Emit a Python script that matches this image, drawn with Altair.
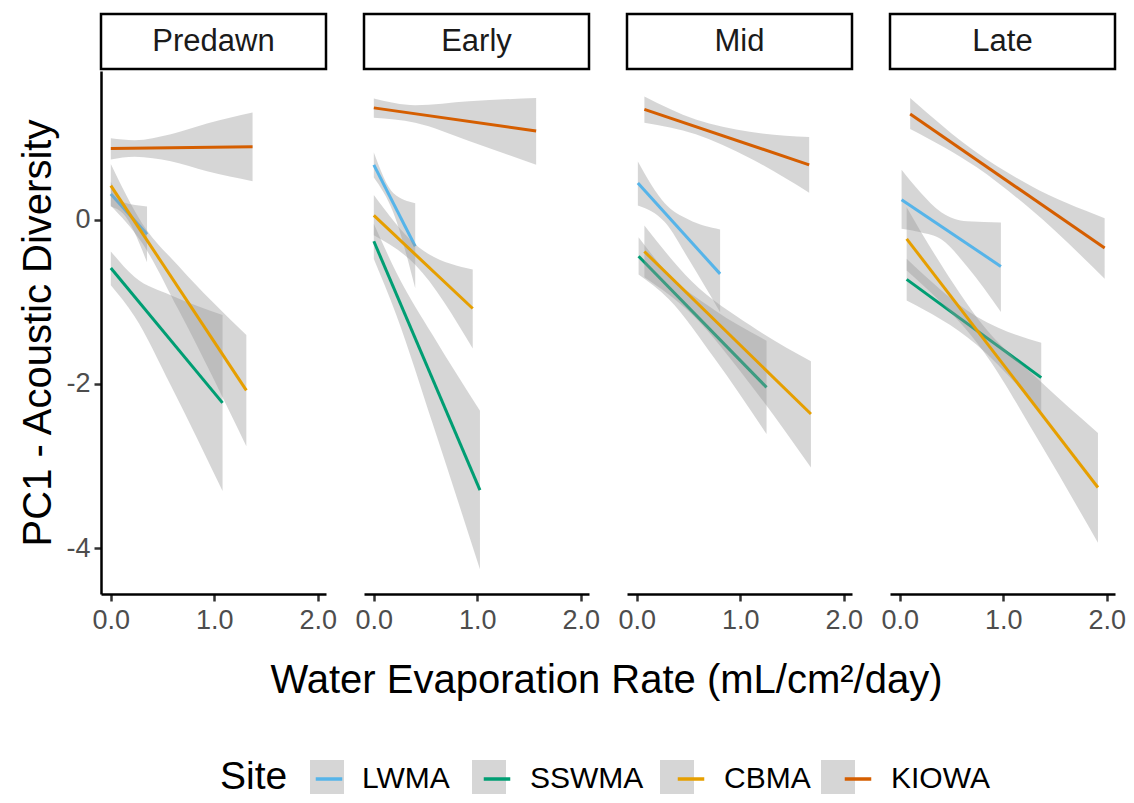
import altair as alt
import pandas as pd

FONT = "Liberation Sans"
TIMES = ["Predawn", "Early", "Mid", "Late"]
SITES = ["LWMA", "SSWMA", "CBMA", "KIOWA"]
SITE_COLORS = ["#56B4E9", "#009E73", "#E69F00", "#D55E00"]
BAND_GRAY = "#999999"

X_TICKS = [0.0, 1.0, 2.0]
Y_TICKS = [0, -2, -4]

X_TITLE = "Water Evaporation Rate (mL/cm\u00b2/day)"
Y_TITLE = "PC1 - Acoustic Diversity"

# Fitted regression lines: site -> ([x_start, x_end], [y_start, y_end])
PREDAWN_LINES = {
    "LWMA": ([0.0, 0.35], [0.312, -0.178]),
    "SSWMA": ([0.0, 1.08], [-0.589, -2.232]),
    "CBMA": ([0.0, 1.31], [0.414, -2.08]),
    "KIOWA": ([0.0, 1.37], [0.867, 0.888]),
}
EARLY_LINES = {
    "LWMA": ([0.0, 0.40], [0.667, -0.324]),
    "SSWMA": ([0.0, 1.026], [-0.264, -3.294]),
    "CBMA": ([0.0, 0.956], [0.051, -1.083]),
    "KIOWA": ([0.0, 1.569], [1.361, 1.079]),
}
MID_LINES = {
    "LWMA": ([0.01, 0.805], [0.445, -0.661]),
    "SSWMA": ([0.017, 1.254], [-0.446, -2.043]),
    "CBMA": ([0.073, 1.683], [-0.389, -2.368]),
    "KIOWA": ([0.073, 1.666], [1.343, 0.667]),
}
LATE_LINES = {
    "LWMA": ([0.017, 0.977], [0.241, -0.570]),
    "SSWMA": ([0.066, 1.367], [-0.728, -1.925]),
    "CBMA": ([0.066, 1.915], [-0.234, -3.263]),
    "KIOWA": ([0.10, 1.98], [1.287, -0.347]),
}

# Confidence ribbons: site -> (x, lower, upper)
PREDAWN_BANDS = {
    "LWMA": ([0.0, 0.12, 0.35], [0.16, 0.07, -0.52], [0.46, 0.21, 0.16]),
    "SSWMA": ([0.0, 0.23, 0.58, 1.08], [-0.80, -1.18, -2.02, -3.306], [-0.387, -0.70, -0.92, -1.163]),
    "CBMA": ([0.0, 0.3, 0.65, 1.31], [0.17, -0.28, -1.09, -2.76], [0.677, -0.04, -0.56, -1.406]),
    "KIOWA": ([0.0, 0.23, 0.58, 0.93, 1.37], [0.733, 0.766, 0.71, 0.588, 0.467],
              [0.992, 0.968, 1.041, 1.17, 1.304]),
}
EARLY_BANDS = {
    "LWMA": ([0.0, 0.19, 0.40], [0.514, 0.08, -0.837], [0.817, 0.32, 0.20]),
    "SSWMA": ([0.0, 0.22, 0.57, 1.026], [-0.48, -1.17, -2.49, -4.26], [-0.05, -0.65, -1.41, -2.328]),
    "CBMA": ([0.0, 0.40, 0.956], [-0.191, -0.55, -1.570], [0.30, -0.30, -0.607]),
    "KIOWA": ([0.0, 0.40, 0.92, 1.569], [1.240, 1.180, 0.958, 0.667], [1.474, 1.393, 1.442, 1.482]),
}
MID_BANDS = {
    "LWMA": ([0.01, 0.27, 0.5, 0.805], [0.172, -0.03, -0.48, -1.128], [0.709, 0.20, 0.0, -0.12]),
    "SSWMA": ([0.017, 0.31, 0.75, 1.254], [-0.669, -0.97, -1.69, -2.612], [-0.214, -0.67, -1.10, -1.474]),
    "CBMA": ([0.073, 0.53, 1.1, 1.683], [-0.702, -1.15, -2.01, -3.019], [-0.072, -0.75, -1.29, -1.726]),
    "KIOWA": ([0.073, 0.57, 1.09, 1.666], [1.18, 1.04, 0.75, 0.327], [1.50, 1.22, 1.07, 1.006]),
}
LATE_BANDS = {
    "LWMA": ([0.017, 0.2, 0.4, 0.65, 0.977], [-0.112, -0.155, -0.24, -0.57, -1.126],
             [0.606, 0.33, 0.09, -0.02, -0.035]),
    "SSWMA": ([0.066, 0.74, 1.367], [-0.984, -1.52, -2.35], [-0.477, -1.18, -1.50]),
    "CBMA": ([0.066, 0.35, 0.8, 1.35, 1.915], [-0.619, -0.95, -1.59, -2.71, -3.936],
             [0.152, -0.45, -1.28, -1.96, -2.598]),
    "KIOWA": ([0.10, 0.74, 1.26, 1.98], [1.105, 0.64, 0.131, -0.72], [1.482, 0.82, 0.415, 0.018]),
}

ALL_LINES = [PREDAWN_LINES, EARLY_LINES, MID_LINES, LATE_LINES]
ALL_BANDS = [PREDAWN_BANDS, EARLY_BANDS, MID_BANDS, LATE_BANDS]

line_rows, band_rows = [], []
for t, lines, bands in zip(TIMES, ALL_LINES, ALL_BANDS):
    for s in SITES:
        xs, ys = lines[s]
        for i, (x, y) in enumerate(zip(xs, ys)):
            line_rows.append({"time": t, "site": s, "x": x, "y": y, "o": i})
        bx, lo, hi = bands[s]
        for x, l, h in zip(bx, lo, hi):
            band_rows.append({"time": t, "site": s, "site_bg": s, "x": x, "lo": l, "hi": h})
lines_df = pd.DataFrame(line_rows)
bands_df = pd.DataFrame(band_rows)

PANEL_W = 225
PANEL_H = 523
STRIP_H = 55
SPACING = 18          # plus the tick-label overhangs gives ~37px between panels
TITLE_W = 4 * PANEL_W + 3 * 37
TITLE_H = 96
LEG_X = 119
LEG_Y = 746

x_scale = alt.Scale(domain=[-0.095, 2.08], nice=False, zero=False)
y_scale = alt.Scale(domain=[-4.56, 1.81], nice=False, zero=False)

fill_legend = alt.Legend(
    orient="none", legendX=LEG_X, legendY=LEG_Y, direction="horizontal", columns=4,
    title="Site", titleOrient="left", symbolType="square", symbolSize=1156,
    symbolOpacity=0.4, symbolStrokeWidth=0, labelOpacity=0, titleOpacity=0, zindex=0,
)
stroke_legend = alt.Legend(
    orient="none", legendX=LEG_X, legendY=LEG_Y, direction="horizontal", columns=4,
    title="Site", titleOrient="left", symbolType="M-0.78,0H0.78", symbolSize=1156,
    symbolStrokeWidth=3.5, zindex=1,
)


def panel(t, first):
    bdf = bands_df[bands_df.time == t]
    ldf = lines_df[lines_df.time == t]
    x_axis = alt.Axis(values=X_TICKS, format=".1f", title=None, grid=False, labelPadding=6)
    if first:
        y_axis = alt.Axis(values=Y_TICKS, labelExpr="toString(datum.value)", title=Y_TITLE, grid=False)
    else:
        y_axis = None
    layers = []
    for s in SITES:
        area = alt.Chart(bdf[bdf.site == s]).mark_area(
            interpolate="monotone", fillOpacity=0.4
        ).encode(
            x=alt.X("x:Q", scale=x_scale, axis=x_axis),
            y=alt.Y("lo:Q", scale=y_scale, axis=y_axis, stack=None),
            y2="hi:Q",
            fill=alt.Fill("site_bg:N", sort=SITES, scale=alt.Scale(range=[BAND_GRAY] * 4),
                          legend=fill_legend),
        )
        line = alt.Chart(ldf[ldf.site == s]).mark_line(strokeWidth=3).encode(
            x=alt.X("x:Q", scale=x_scale, axis=x_axis),
            y=alt.Y("y:Q", scale=y_scale, axis=y_axis),
            order="o:O",
            stroke=alt.Stroke("site:N", scale=alt.Scale(domain=SITES, range=SITE_COLORS),
                              legend=stroke_legend),
        )
        layers += [area, line]
    body = alt.layer(*layers).properties(width=PANEL_W, height=PANEL_H)
    strip = alt.Chart(pd.DataFrame({"time": [t]})).mark_text(
        font=FONT, fontSize=31, color="#1A1A1A"
    ).encode(text="time:N").properties(
        width=PANEL_W, height=STRIP_H,
        view=alt.ViewBackground(stroke="black", strokeWidth=2.5, fill="white"),
    )
    return alt.vconcat(strip, body, spacing=0)


panels = [panel(t, i == 0) for i, t in enumerate(TIMES)]
grid = alt.hconcat(*panels, spacing=SPACING)

x_title = alt.Chart(pd.DataFrame({"label": [X_TITLE]})).mark_text(
    font=FONT, fontSize=40, color="black"
).encode(text="label:N").properties(width=TITLE_W, height=TITLE_H)

chart = alt.vconcat(grid, x_title, spacing=0).resolve_scale(
    fill="shared", stroke="shared"
).properties(
    padding={"left": 10, "top": 4, "right": 0, "bottom": 0},
).configure(font=FONT).configure_view(stroke=None).configure_axis(
    domainColor="black", domainWidth=2.5, tickColor="#333333", tickWidth=2.5, tickSize=7,
    labelFont=FONT, labelFontSize=27, labelColor="#4D4D4D", labelPadding=4,
    titleFont=FONT, titleFontSize=40, titleFontWeight="normal", titleColor="black",
    titlePadding=7,
).configure_legend(
    titleFont=FONT, titleFontSize=39, titleFontWeight="normal", titleColor="black",
    titlePadding=22, labelFont=FONT, labelFontSize=30, labelColor="black",
    labelOffset=14, columnPadding=26, titleBaseline="middle",
)

chart.save("out.html", embed_options={"renderer": "svg", "actions": False})
